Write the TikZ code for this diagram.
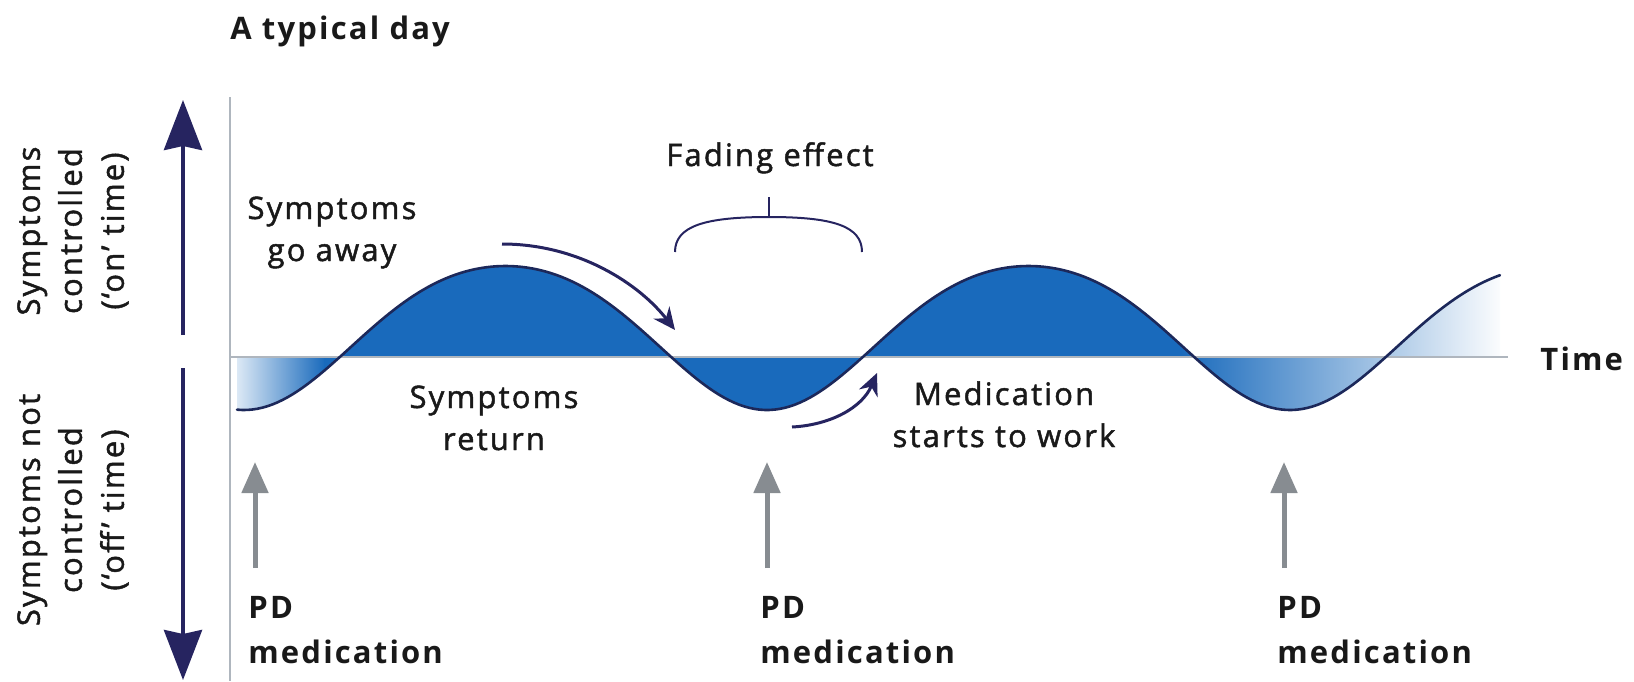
\documentclass[tikz,border=0pt]{standalone}
\usepackage{fontspec}
\setmainfont{Open Sans}[LetterSpace=7]
\newfontfamily\regfont{Open Sans}[LetterSpace=7, FakeBold=1.5]
\usetikzlibrary{arrows.meta}
\definecolor{navy}{RGB}{38,36,96}
\definecolor{wavefill}{RGB}{25,106,188}
\definecolor{wavelight}{RGB}{222,234,246}
\definecolor{waveline}{RGB}{28,40,90}
\definecolor{medgray}{RGB}{135,140,145}
\definecolor{axisgray}{RGB}{175,182,190}
\definecolor{txt}{RGB}{25,25,25}
\begin{document}
\begin{tikzpicture}[x=0.5pt,y=-0.5pt,
  lbl/.style={text=txt, font=\regfont\fontsize{15.5}{21}\selectfont, inner sep=0pt, align=center},
  blbl/.style={text=txt, font=\fontsize{15.5}{22.5}\selectfont\bfseries, inner sep=0pt, align=left},
  axisarrow/.style={navy, line width=2pt, -{Stealth[length=25pt,width=19pt,inset=2pt]}},
  medarrow/.style={medgray, line width=2.5pt, -{Triangle[length=15.5pt,width=13pt]}},
  curvearrow/.style={navy, line width=1.5pt, -{Stealth[length=11pt,width=10pt]}},
  declare function={wy(\x)=331.8+72*cos(0.688336*(\x-244))+6.2*cos(1.376672*(\x-244));}]
\useasboundingbox (0,0) rectangle (1634,681);

% filled wave region
\begin{scope}
  \clip plot[domain=237:1500, samples=250] (\x,{wy(\x)}) -- (1500,357) -- (237,357) -- cycle;
  \shade[left color=wavelight, right color=wavefill] (236,240) rectangle (325,430);
  \fill[wavefill] (324,240) rectangle (1181,430);
  \shade[left color=wavefill, right color=white] (1180,240) rectangle (1506,430);
\end{scope}

% axes
\coordinate (bl) at (230,357);
\coordinate (br) at (1508,357);
\draw[axisgray, line width=1pt] (bl) -- (br);
\coordinate (vt) at (230,97);
\coordinate (vb) at (230,681);
\draw[axisgray, line width=1pt] (vt) -- (vb);

% wave
\draw[waveline, line width=1.3pt, line cap=round] plot[domain=237:1500, samples=250] (\x,{wy(\x)});

% vertical axis arrows
\coordinate (upS) at (183,335);
\coordinate (upT) at (183,100);
\coordinate (dnS) at (183,368);
\coordinate (dnT) at (183,680);
\draw[axisarrow] (upS) -- (upT);
\draw[axisarrow] (dnS) -- (dnT);

% texts (anchor base = baseline of the last line)
\node[blbl, anchor=base west] (title) at (230,39) {A typical day};
\node[blbl, anchor=base west] (time) at (1540,370) {Time};
\node[lbl, anchor=base] (goaway) at (332,261) {Symptoms\\go away};
\node[lbl, anchor=base] (ret) at (494,450) {Symptoms\\return};
\node[lbl, anchor=base] (fading) at (770,166) {Fading effect};
\node[lbl, anchor=base] (medstart) at (1004,447) {Medication\\starts to work};
\node[lbl, rotate=90] (onlab) at (73,231) {Symptoms\\controlled\\(‘on’ time)};
\node[lbl, rotate=90] (offlab) at (73,510) {Symptoms not\\controlled\\(‘off’ time)};
\node[blbl, anchor=base west] (pd1) at (248,663) {PD\\medication};
\node[blbl, anchor=base west] (pd2) at (760,663) {PD\\medication};
\node[blbl, anchor=base west] (pd3) at (1277,663) {PD\\medication};

% medication arrows
\coordinate (m1s) at (255,568); \coordinate (m1t) at (255,462);
\coordinate (m2s) at (767,568); \coordinate (m2t) at (767,462);
\coordinate (m3s) at (1284,568); \coordinate (m3t) at (1284,462);
\draw[medarrow] (m1s) -- (m1t);
\draw[medarrow] (m2s) -- (m2t);
\draw[medarrow] (m3s) -- (m3t);

% fading bracket
\coordinate (brL) at (675,252);
\coordinate (brM) at (769,217);
\coordinate (brR) at (862,252);
\coordinate (brT) at (769,197);
\draw[navy, line width=1pt] (brL) .. controls (675,226) and (705,217) .. (brM) .. controls (833,217) and (862,226) .. (brR);
\draw[navy, line width=1pt] (brM) -- (brT);

% curved arrows
\coordinate (a1s) at (502,244);
\coordinate (a1t) at (675,330);
\draw[curvearrow] (a1s) .. controls (580,244) and (640,285) .. (a1t);
\coordinate (a2s) at (792,427);
\coordinate (a2t) at (877,373);
\draw[curvearrow] (a2s) .. controls (830,425) and (862,408) .. (a2t);
\end{tikzpicture}
\end{document}
